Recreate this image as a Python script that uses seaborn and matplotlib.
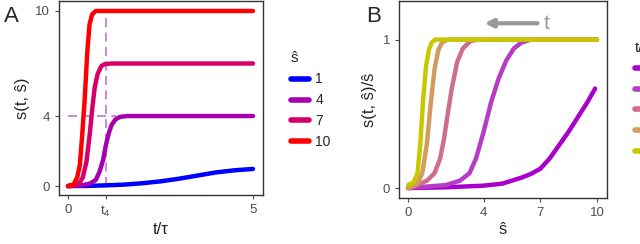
import numpy as np
import pandas as pd
import matplotlib
matplotlib.use("Agg")
import matplotlib.pyplot as plt
import seaborn as sns

# DATA

# panel A : s(t, s_hat) against t/tau
s_hat_levels = [1, 4, 7, 10]
t_s1 = [0, 0.5, 1.0, 1.5, 2.0, 2.5, 3.0, 3.5, 4.0, 4.5, 5.0]
s_s1 = [0, 0.01, 0.04, 0.08, 0.16, 0.27, 0.42, 0.6, 0.78, 0.9, 0.98]
t_s4 = [0, 0.4, 0.6, 0.75, 0.85, 0.95, 1.02, 1.1, 1.18, 1.28, 1.4, 1.6, 5.0]
s_s4 = [0, 0.05, 0.15, 0.35, 0.8, 1.5, 2.3, 3.0, 3.5, 3.8, 3.95, 4, 4]
t_s7 = [0, 0.2, 0.32, 0.4, 0.5, 0.59, 0.66, 0.72, 0.8, 0.9, 1.0, 1.2, 5.0]
s_s7 = [0, 0.05, 0.2, 0.5, 1.4, 3.0, 4.5, 5.6, 6.4, 6.85, 6.97, 7, 7]
t_s10 = [0, 0.15, 0.25, 0.32, 0.38, 0.45, 0.52, 0.58, 0.65, 0.75, 1.0, 5.0]
s_s10 = [0, 0.1, 0.5, 1.2, 2.8, 4.9, 7.6, 9.2, 9.8, 10, 10, 10]
colors_A = ["#0000FF", "#A500AF", "#D7006B", "#FF0000"]
t4 = 1.02

# panel B : s(t, s_hat)/s_hat against s_hat, one curve per time
t_levels = ["0.5", "1", "2", "3", "4"]
sh_t1 = [0, 2, 4, 5, 5.5, 6, 6.5, 7, 7.5, 8, 8.5, 9, 9.5, 9.9]
r_t1 = [0, 0.005, 0.016, 0.03, 0.05, 0.07, 0.095, 0.13, 0.2, 0.29, 0.38, 0.48, 0.58, 0.67]
sh_t2 = [0, 1, 2, 2.75, 3.25, 3.6, 4, 4.4, 4.8, 5.2, 5.6, 6, 6.5, 7, 10]
r_t2 = [0, 0.01, 0.02, 0.05, 0.1, 0.2, 0.38, 0.58, 0.74, 0.86, 0.94, 0.98, 1, 1, 1]
sh_t3 = [0, 0.5, 1, 1.4, 1.7, 1.9, 2.1, 2.3, 2.6, 2.9, 3.3, 3.7, 10]
r_t3 = [0, 0.02, 0.05, 0.1, 0.2, 0.33, 0.5, 0.66, 0.85, 0.94, 0.99, 1, 1]
sh_t4 = [0, 0.5, 0.75, 1.0, 1.2, 1.4, 1.6, 1.8, 2.1, 10]
r_t4 = [0, 0.03, 0.1, 0.3, 0.57, 0.8, 0.93, 0.98, 1, 1]
sh_t5 = [0, 0.3, 0.5, 0.65, 0.8, 0.95, 1.1, 1.25, 1.45, 1.7, 10]
r_t5 = [0.02, 0.04, 0.1, 0.3, 0.6, 0.82, 0.93, 0.98, 1, 1, 1]
colors_B = ["#AA00CC", "#B63CC4", "#CC6E8C", "#D29B5F", "#C8C800"]


# TABLES

df_A = pd.concat([
    pd.DataFrame({"t": t, "s": s, "s_hat": str(lvl)})
    for lvl, t, s in zip(s_hat_levels,
                         [t_s1, t_s4, t_s7, t_s10],
                         [s_s1, s_s4, s_s7, s_s10])
], ignore_index=True)

df_B = pd.concat([
    pd.DataFrame({"s_hat": x, "ratio": r, "t": lvl})
    for lvl, x, r in zip(t_levels,
                         [sh_t1, sh_t2, sh_t3, sh_t4, sh_t5],
                         [r_t1, r_t2, r_t3, r_t4, r_t5])
], ignore_index=True)


# STYLE

sns.set_style("ticks")
plt.rcParams["font.family"] = ["Liberation Sans", "DejaVu Sans"]
grey = "#4D4D4D"
plt.rcParams.update({
    "axes.edgecolor": "#333333",
    "axes.linewidth": 1.0,
    "xtick.color": grey,
    "ytick.color": grey,
    "xtick.labelcolor": grey,
    "ytick.labelcolor": grey,
    "xtick.major.size": 3,
    "ytick.major.size": 3,
    "xtick.labelsize": 9.5,
    "ytick.labelsize": 9.5,
})

fig = plt.figure(figsize=(6.4, 2.44), dpi=100)
axA = fig.add_axes([59 / 640, 49 / 244, 204 / 640, 194 / 244])
axB = fig.add_axes([399 / 640, 46 / 244, 208 / 640, 197 / 244])


# PANEL A

sns.lineplot(data=df_A, x="t", y="s", hue="s_hat", palette=colors_A,
             linewidth=3.2, ax=axA, legend=False, sort=False,
             estimator=None)
dash_col = "#C77DDB"
axA.plot([t4, t4], [0, 10.0], color=dash_col, lw=1.3, ls=(0, (5, 3)), zorder=0)
axA.plot([0, 1.3], [4, 4], color=dash_col, lw=1.3, ls=(0, (5, 3)), zorder=0)
axA.set_xlim(-0.243, 5.27)
axA.set_ylim(-0.51, 10.57)
axA.set_xticks([0, t4, 5])
axA.set_xticklabels(["0", "$\\mathregular{t_4}$", "5"])
axA.set_yticks([0, 4, 10])
axA.set_xlabel("t/τ", fontsize=12, labelpad=2)
axA.set_ylabel("s(t, ŝ)", fontsize=12, labelpad=4)
for sp in axA.spines.values():
    sp.set_visible(True)

handles_A = [plt.Line2D([], [], color=c, lw=4) for c in colors_A]
legA = axA.legend(handles_A, [str(v) for v in s_hat_levels], title="ŝ",
                  loc="upper left", bbox_to_anchor=(278 / 640, 1 - 39 / 244),
                  bbox_transform=fig.transFigure, frameon=False,
                  fontsize=10, title_fontsize=11, handlelength=1.3,
                  handletextpad=0.5, labelspacing=0.5, alignment="left")

# PANEL B

sns.lineplot(data=df_B, x="s_hat", y="ratio", hue="t", palette=colors_B,
             linewidth=3.2, ax=axB, legend=False, sort=False,
             estimator=None)
axB.set_xlim(-0.48, 10.53)
axB.set_ylim(-0.067, 1.26)
axB.set_xticks([0, 4, 7, 10])
axB.set_yticks([0, 1])
axB.set_xlabel("ŝ", fontsize=12, labelpad=2)
axB.set_ylabel("s(t, ŝ)/ŝ", fontsize=12, labelpad=4)
for sp in axB.spines.values():
    sp.set_visible(True)

axB.annotate("", xy=(3.9, 1.11), xytext=(7.0, 1.11),
             arrowprops=dict(arrowstyle="-|>", color="#999999", lw=3,
                             mutation_scale=12))
axB.text(7.15, 1.11, "t", color="#999999", fontsize=15, va="center", ha="left")

handles_B = [plt.Line2D([], [], color=c, lw=4) for c in colors_B]
legB = axB.legend(handles_B, t_levels, title="t/τ",
                  loc="upper left", bbox_to_anchor=(622 / 640, 1 - 28 / 244),
                  bbox_transform=fig.transFigure, frameon=False,
                  fontsize=10, title_fontsize=11, handlelength=1.3,
                  handletextpad=0.5, labelspacing=0.5, alignment="left")

# panel letters
fig.text(4 / 640, 1 - 16 / 244, "A", fontsize=16, va="center", ha="left")
fig.text(366 / 640, 1 - 16 / 244, "B", fontsize=16, va="center", ha="left")

fig.savefig("out.png", dpi=100)
plt.close()
